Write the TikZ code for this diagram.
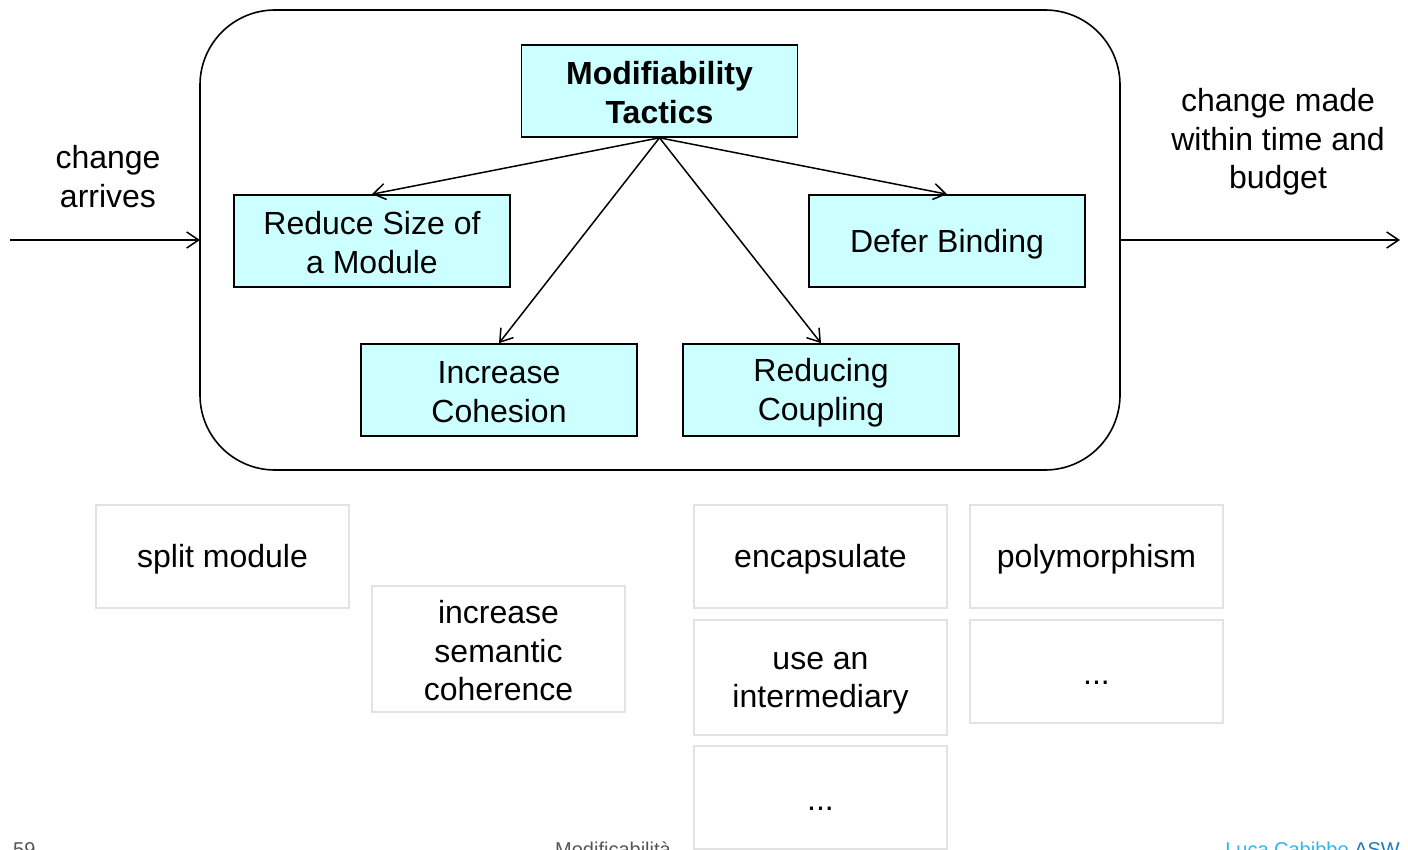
\documentclass[tikz,border=0pt]{standalone}
\usepackage{fontspec}
\setmainfont{Liberation Sans}
\usetikzlibrary{arrows.meta}
\definecolor{tacfill}{HTML}{CCFFFF}
\definecolor{optline}{HTML}{E2E2E2}
\definecolor{footgray}{HTML}{555555}
\definecolor{footcyan}{HTML}{33B5E5}
\definecolor{footblue}{HTML}{1C7CC0}
% line strut giving every line the same height and depth
\newcommand{\tstrut}{\rule[-2.8pt]{0pt}{31.8pt}}
\tikzset{
  big/.style={font=\fontsize{32}{38.5}\selectfont},
  tactic/.style={big, draw=black, line width=1.6pt, fill=tacfill, align=center,
    minimum width=276pt, minimum height=92pt, inner sep=0pt},
  option/.style={big, draw=optline, line width=2pt, fill=white, align=center,
    minimum width=253pt, inner sep=0pt},
  plain/.style={big, align=center, inner sep=0pt},
  link/.style={line width=1.5pt, -{Straight Barb[length=12pt,width=16pt,line width=1.5pt]}},
  foot/.style={font=\fontsize{20}{24}\selectfont, anchor=base, inner sep=0pt}
}
\begin{document}
\begin{tikzpicture}[x=1pt,y=-1pt]
\useasboundingbox (0,0) rectangle (1408,850);

% the tactics frame
\draw[line width=1.6pt, rounded corners=75pt] (200,10) rectangle (1120,470);
\coordinate (fw) at (200,240);
\coordinate (fe) at (1120,240);
\coordinate (in) at (10,240);
\coordinate (out) at (1400,240);

% tactic boxes
\node[tactic, font=\fontsize{32}{38.5}\selectfont\bfseries] (mt) at (659.5,91)
  {\tstrut Modifiability\\\tstrut Tactics};
\node[tactic] (rs) at (372,241) {\tstrut Reduce Size of\\\tstrut a Module};
\node[tactic] (db) at (947,241) {\tstrut Defer Binding};
\node[tactic] (ic) at (499,390) {\tstrut Increase\\\tstrut Cohesion};
\node[tactic] (rc) at (821,390) {\tstrut Reducing\\\tstrut Coupling};

% hierarchy links
\draw[link] (mt.south) -- (rs.north);
\draw[link] (mt.south) -- (db.north);
\draw[link] (mt.south) -- (ic.north);
\draw[link] (mt.south) -- (rc.north);

% stimulus and response
\node[plain] (ca) at (108,175) {\tstrut change\\\tstrut arrives};
\node[plain] (cm) at (1278,139) {\tstrut change made\\\tstrut within time and\\\tstrut budget};
\draw[link] (in) -- (fw);
\draw[link] (fe) -- (out);

% concrete tactics
\node[option, minimum height=103pt] (sm) at (222.5,556.5) {\tstrut split module};
\node[option, minimum height=126pt] (sc) at (498.5,649) {\tstrut increase\\\tstrut semantic\\\tstrut coherence};
\node[option, minimum height=103pt] (en) at (820.5,556.5) {\tstrut encapsulate};
\node[option, minimum height=115pt] (ui) at (820.5,677.5) {\tstrut use an\\\tstrut intermediary};
\node[option, minimum height=103pt] (e1) at (820.5,797.5) {\tstrut ...};
\node[option, minimum height=103pt] (pm) at (1096.5,556.5) {\tstrut polymorphism};
\node[option, minimum height=103pt] (e2) at (1096.5,671.5) {\tstrut ...};

% footer
\node[foot, text=footgray, anchor=base west] (pg) at (13,856) {59};
\node[foot, text=footgray] (tt) at (613,856) {Modificabilità};
\node[foot, anchor=base east] (au) at (1400,856) {\textcolor{footcyan}{Luca Cabibbo} \textcolor{footblue}{ASW}};
\end{tikzpicture}
\end{document}
